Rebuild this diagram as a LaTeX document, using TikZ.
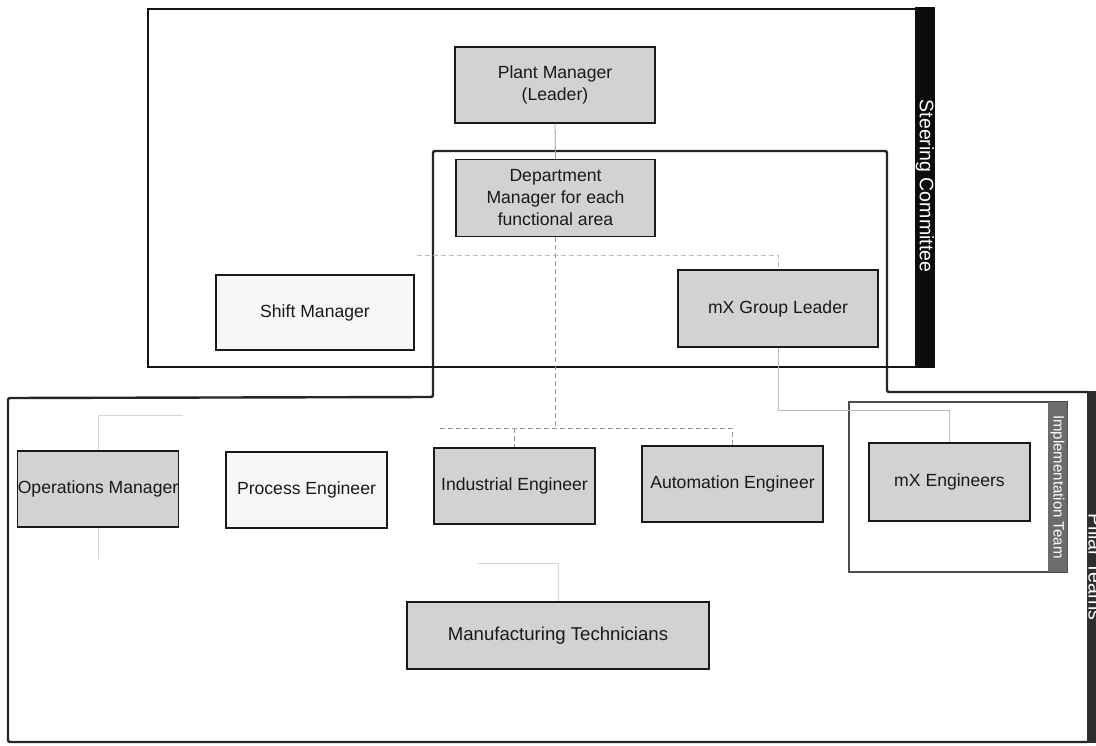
\documentclass[tikz,border=0pt]{standalone}
\usepackage{fontspec}
\setmainfont{Liberation Sans}
\usetikzlibrary{calc}

\definecolor{boxgray}{HTML}{D2D2D2}
\definecolor{paleBox}{HTML}{F7F7F7}
\definecolor{frameInk}{HTML}{262626}
\definecolor{linkGray}{HTML}{9C9C9C}
\definecolor{faintGray}{HTML}{D6D6D6}
\definecolor{pillarBar}{HTML}{2E2E2E}
\definecolor{implBar}{HTML}{6C6C6C}

\begin{document}
\begin{tikzpicture}[x=1pt,y=-1pt,
  role/.style={draw=black!90, line width=1.3pt, fill=boxgray, inner sep=0pt,
    align=center, text=black!90, font=\fontsize{17.6}{22}\selectfont},
  plainrole/.style={role, fill=paleBox},
  link/.style={draw=linkGray, line width=0.8pt},
  dashlink/.style={link, dash pattern=on 5pt off 3pt},
  faintlink/.style={draw=faintGray, line width=0.8pt},
  bandlabel/.style={rotate=-90, text=white, inner sep=0pt,
    font=\fontsize{19.5}{22}\selectfont}
]
\useasboundingbox (0,0) rectangle (1096,746);
\fill[white] (0,0) rectangle (1096,746);
\clip (0,0) rectangle (1096,746);

% Pillar Teams frame (stepped outline around the department level)
\draw[frameInk, line width=2.4pt, rounded corners=2pt]
  (1087,742) -- (8,742) -- (8,398) -- (433,397) -- (433,151)
  -- (887,151) -- (887,392) -- (1087,392);
\fill[pillarBar] (1087,391) rectangle (1112,743);
\node[bandlabel, anchor=base] (pillarlabel) at (1088.5,567) {Pillar Teams};

% Steering Committee frame
\draw[black!92, line width=2.2pt] (148,9) rectangle (920,367);
\fill[black!95] (915,7) rectangle (935,368);
\node[bandlabel] (steerlabel) at (925,186) {Steering Committee};

% Implementation Team frame
\draw[black!70, line width=1.2pt] (849,402) rectangle (1067,572);
\fill[implBar] (1048,402) rectangle (1067,572);
\node[bandlabel, font=\fontsize{15}{18}\selectfont] (impllabel) at (1057.5,487) {Implementation Team};

% Roles
\node[role, minimum width=200pt, minimum height=76pt] (plant) at (555,85)
  {Plant Manager\\(Leader)};
\node[role, minimum width=199pt, minimum height=77pt] (dept) at (555.5,198)
  {Department\\Manager for each\\functional area};
\node[plainrole, minimum width=198pt, minimum height=75pt] (shift) at (315,312.5)
  {Shift Manager};
\node[role, minimum width=200pt, minimum height=77pt] (mxgl) at (778,308.5)
  {mX Group Leader};

\node[role, minimum width=160pt, minimum height=76pt] (ops) at (98,489)
  {Operations Manager};
\node[plainrole, minimum width=161pt, minimum height=76pt] (proc) at (306.5,490)
  {Process Engineer};
\node[role, minimum width=161pt, minimum height=76pt] (ind) at (514.5,486)
  {Industrial Engineer};
\node[role, minimum width=181pt, minimum height=76pt] (auto) at (732.5,484)
  {Automation Engineer};
\node[role, minimum width=161pt, minimum height=78pt] (mxeng) at (949.5,482)
  {mX Engineers};
\node[role, minimum width=302pt, minimum height=67pt, font=\fontsize{18.6}{22}\selectfont] (manu) at (558,635.5)
  {Manufacturing Technicians};

% Connectors
\coordinate (bus) at (440,428);
\coordinate (topbus) at (417,255);
\coordinate (opsbus) at (183,415);
\coordinate (opsdrop) at (98,559);
\coordinate (manubus) at (477,563);

\draw[link] (plant.south) -- (dept.north);
\draw[dashlink] (dept.south) -- (dept.south |- bus);
\draw[dashlink] (bus) -- (auto.north |- bus) -- (auto.north);
\draw[dashlink] (ind.north |- bus) -- (ind.north);
\draw[dashlink, draw=linkGray!70] (topbus) -- (mxgl.north |- topbus) -- (mxgl.north);
\draw[link, draw=linkGray!70] (mxgl.south) -- ++(0,63) -| (mxeng.north);
\draw[faintlink] (opsbus) -- (ops.north |- opsbus) -- (ops.north);
\draw[faintlink] (ops.south) -- (opsdrop);
\draw[faintlink] (manubus) -- (manu.north |- manubus) -- (manu.north);
\end{tikzpicture}
\end{document}
